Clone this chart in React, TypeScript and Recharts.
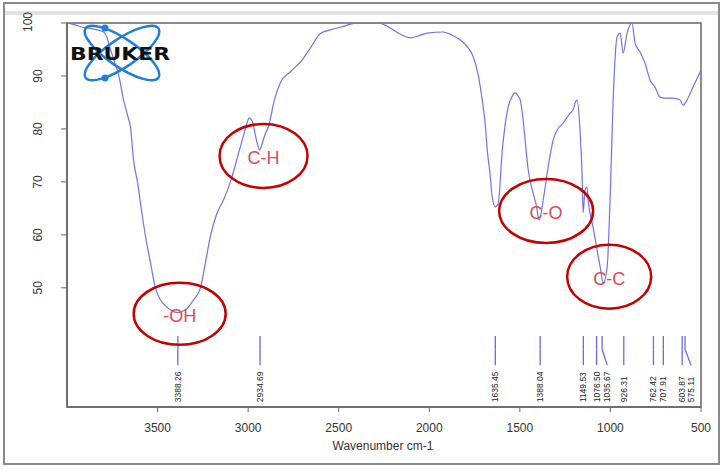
import React from 'react';
import { ComposedChart, Line, XAxis, YAxis, ReferenceArea, ReferenceDot, ReferenceLine } from 'recharts';

const wavenumbers = [
  3996, 3952, 3914, 3859, 3797, 3775, 3759, 3737, 3715, 3688, 3666, 3649, 3633, 3611, 3589, 3567, 3539, 3512,
  3484, 3456, 3423, 3390, 3368, 3340, 3302, 3263, 3235, 3208, 3175, 3136, 3098, 3048, 3020, 2993, 2976, 2954,
  2937, 2921, 2904, 2888, 2855, 2822, 2767, 2712, 2656, 2601, 2546, 2491, 2397, 2287, 2243, 2199, 2149, 2105,
  2050, 2011, 1923, 1873, 1829, 1785, 1757, 1730, 1708, 1691, 1680, 1664, 1653, 1636, 1620, 1597, 1581, 1564,
  1542, 1526, 1509, 1498, 1482, 1471, 1454, 1427, 1410, 1393, 1371, 1344, 1316, 1294, 1261, 1222, 1206, 1195,
  1184, 1167, 1156, 1151, 1140, 1129, 1123, 1096, 1074, 1057, 1040, 1018, 1002, 985, 963, 946, 930, 908, 881,
  864, 836, 809, 781, 754, 726, 699, 654, 616, 599, 572, 544, 500,
];
const transmittance = [
  100, 99.6, 99.2, 98.9, 98.3, 96.8, 94.9, 92.6, 90.2, 85.5, 82.6, 80.2, 74.2, 70, 64.7, 59.8, 54.7, 50,
  47.7, 46.6, 45.7, 45.3, 45.5, 46, 47.7, 50, 54.9, 59.8, 63.8, 66.6, 70, 76, 79.4, 82.1, 81.3, 77.9,
  76, 77.4, 79.2, 80.4, 85.5, 88.7, 90.8, 92.6, 95.3, 98, 98.7, 99.2, 100, 100, 99.6, 98.7, 97.7, 97.2,
  97.7, 98.1, 98.3, 97.7, 96.8, 95.3, 93.6, 90.2, 85.5, 80.8, 76, 71.3, 67.2, 65.3, 65.8, 76, 80.8, 84.2,
  86.2, 86.8, 86.2, 85.5, 81.7, 77.9, 72.3, 67.9, 65.7, 62.8, 66.6, 72.8, 77.9, 79.8, 81.1, 83, 83.6, 84.9,
  85.5, 79.2, 70.9, 64.2, 68.5, 69, 66.6, 61.5, 57.2, 54, 50.9, 54, 66.6, 85.5, 97.4, 98.1, 94.3, 98.1, 100,
  96.2, 94.5, 92.4, 89.2, 87.9, 86, 85.8, 85.8, 85.5, 84.5, 85.8, 87.9, 91.1,
];

const xTicks = [3500, 3000, 2500, 2000, 1500, 1000, 500];
const yTicks = [50, 60, 70, 80, 90, 100];

const peakValues = [3388.26, 2934.69, 1635.45, 1388.04, 1149.53, 1076.5, 1035.67, 926.31, 762.42, 707.91, 603.87, 575.11];
const peakLabels = ['3388.26', '2934.69', '1635.45', '1388.04', '1149.53', '1076.50', '1035.67', '926.31', '762.42', '707.91', '603.87', '575.11'];
// where the marker line starts (top) and where its label sits (bottom), in cm-1
const peakLineTop = [3388.26, 2934.69, 1635.45, 1388.04, 1149.53, 1076.5, 1046, 926.31, 762.42, 707.91, 603.87, 588];
const peakLabelAt = [3388.26, 2934.69, 1635.45, 1388.04, 1149.53, 1076.5, 1018, 926.31, 762.42, 707.91, 603.87, 555];

const groupNames = ['-OH', 'C-H', 'C-O', 'C-C'];
const groupWn = [3378, 2915, 1355, 1007];
const groupT = [45.1, 74.9, 64.5, 52.1];

const data = wavenumbers.map((w, i) => ({ wn: w, t: transmittance[i] }));

const FONT = '"Liberation Sans", Arial, sans-serif';
const ELLIPSE_R = [[46, 31], [44, 32], [47, 32], [42, 32]];

const YTick = (props: any) => {
  const { x, y, payload } = props;
  const cx = payload.value === 100 ? 28 : 38;
  const cy = payload.value === 100 ? y - 1 : y;
  return (
    <text
      x={cx}
      y={cy}
      transform={`rotate(-90 ${cx} ${cy})`}
      textAnchor="middle"
      dominantBaseline="central"
      fontSize={12}
      fontFamily={FONT}
      fill="#333"
    >
      {payload.value}
    </text>
  );
};

const groupShape = (i: number) => (props: any) => {
  const { cx, cy } = props;
  return (
    <g>
      <ellipse cx={cx} cy={cy} rx={ELLIPSE_R[i][0]} ry={ELLIPSE_R[i][1]} fill="none" stroke="#c40000" strokeWidth={2.5} />
      <text x={cx} y={cy + 2} textAnchor="middle" dominantBaseline="central" fontSize={18} fontFamily={FONT} fill="#e04a55">
        {groupNames[i]}
      </text>
    </g>
  );
};

const peakLabelShape = (i: number) => (props: any) => {
  const { cx, cy } = props;
  return (
    <text
      x={cx}
      y={cy}
      transform={`rotate(-90 ${cx} ${cy})`}
      textAnchor="start"
      dominantBaseline="central"
      fontSize={8.5}
      fontFamily={FONT}
      fill="#222"
    >
      {peakLabels[i]}
    </text>
  );
};

const XLabel = (props: any) => {
  const { viewBox } = props;
  return (
    <text
      x={viewBox.x + viewBox.width / 2 - 1}
      y={446}
      textAnchor="middle"
      dominantBaseline="central"
      fontSize={12}
      fontFamily={FONT}
      fill="#333"
    >
      Wavenumber cm-1
    </text>
  );
};

const Logo = () => (
  <svg width={724} height={469} style={{ position: 'absolute', left: 0, top: 0, pointerEvents: 'none' }}>
    <ellipse cx={122} cy={53} rx={44} ry={14} fill="none" stroke="#1f7fd8" strokeWidth={2.5} transform="rotate(34 122 53)" />
    <ellipse cx={122} cy={53} rx={44} ry={14} fill="none" stroke="#1f7fd8" strokeWidth={2.5} transform="rotate(-34 122 53)" />
    <circle cx={105} cy={28} r={3.5} fill="#1f7fd8" />
    <circle cx={105} cy={78} r={3.5} fill="#1f7fd8" />
    <text x={70} y={60} fontSize={17} fontWeight="bold" fontFamily='"DejaVu Sans", sans-serif' fill="#111" textLength={100} lengthAdjust="spacingAndGlyphs">
      BRUKER
    </text>
  </svg>
);

export default function App() {
  return (
    <div style={{ position: 'absolute', left: 0, top: 0, width: 724, height: 469, background: '#fff' }}>
      <div style={{ position: 'absolute', left: 3, top: 2, width: 717, height: 463, border: '2px solid #8a8a8a', boxSizing: 'border-box' }} />
      <div style={{ position: 'absolute', left: 5, top: 11, width: 713, height: 4, background: '#e2e2e2' }} />
      <div style={{ position: 'absolute', left: 0, top: 0 }}>
        <ComposedChart width={724} height={469} data={data} margin={{ top: 23, right: 23, bottom: 0, left: 0 }}>
          <XAxis
            dataKey="wn"
            type="number"
            domain={[500, 4000]}
            reversed
            allowDataOverflow
            ticks={xTicks}
            tickSize={5}
            tickMargin={11}
            height={62}
            axisLine={{ stroke: '#666', strokeWidth: 1.5 }}
            tickLine={{ stroke: '#666' }}
            tick={{ fontSize: 12, fill: '#333', fontFamily: FONT }}
            label={<XLabel />}
          />
          <YAxis
            type="number"
            domain={[27.5, 100]}
            allowDataOverflow
            ticks={yTicks}
            tickSize={6}
            width={67}
            axisLine={{ stroke: '#666', strokeWidth: 1.5 }}
            tickLine={{ stroke: '#666' }}
            tick={<YTick />}
          />
          <ReferenceArea x1={4000} x2={500} y1={27.5} y2={100} fill="none" stroke="#666" strokeWidth={1.5} />
          <Line dataKey="t" type="monotone" stroke="#7373e3" strokeWidth={1.2} dot={false} isAnimationActive={false} />
          {peakValues.map((p, i) => (
            <ReferenceLine
              key={'lt' + i}
              segment={[{ x: peakLineTop[i], y: 40.9 }, { x: peakLineTop[i], y: 38.4 }]}
              stroke="#6a6ae6"
              strokeWidth={1.3}
            />
          ))}
          {peakValues.map((p, i) => (
            <ReferenceLine
              key={'lb' + i}
              segment={[{ x: peakLineTop[i], y: 38.4 }, { x: peakLabelAt[i], y: 35.4 }]}
              stroke="#6a6ae6"
              strokeWidth={1.3}
            />
          ))}
          {peakValues.map((p, i) => (
            <ReferenceDot key={'pl' + i} x={peakLabelAt[i]} y={28.4} r={1} shape={peakLabelShape(i)} />
          ))}
          {groupNames.map((g, i) => (
            <ReferenceDot key={'g' + i} x={groupWn[i]} y={groupT[i]} r={1} shape={groupShape(i)} />
          ))}
        </ComposedChart>
      </div>
      <Logo />
    </div>
  );
}
